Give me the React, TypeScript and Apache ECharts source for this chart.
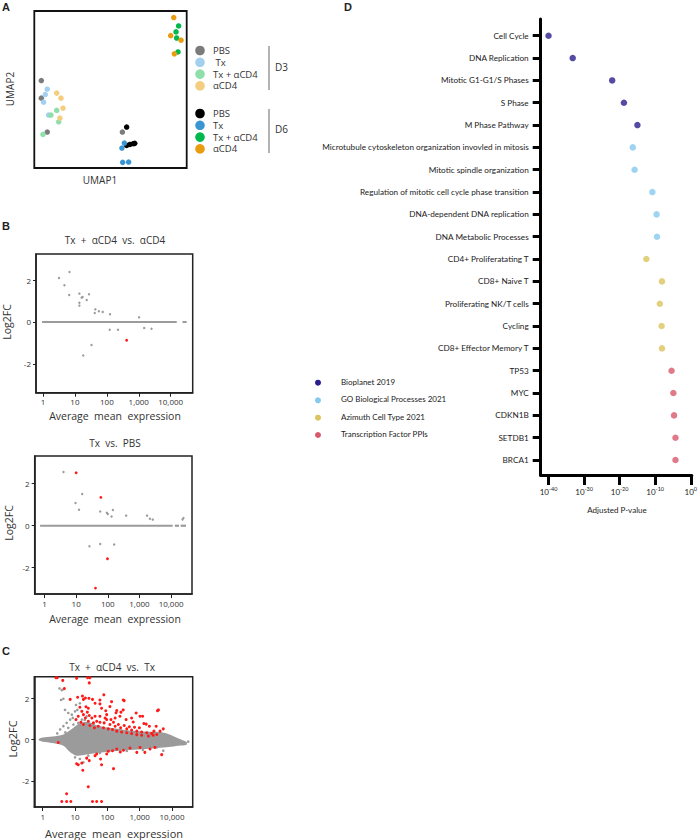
import React, { useEffect, useRef } from "react";
import * as echarts from "echarts";

// ---------- Panel A : UMAP ----------
const umapGroups = ["PBS", "Tx", "Tx + αCD4", "αCD4"];
const umapD3PBS = [[4.6, 55.7], [4.6, 44.5], [8.5, 22.9], [57.8, 22.9]];
const umapD3Tx = [[8.5, 50.2], [7.2, 46.8], [6.1, 41.9], [9.4, 33.7]];
const umapD3TxCD4 = [[10.9, 33.7], [14.7, 36.7], [16.0, 29.4], [5.7, 21.4]];
const umapD3CD4 = [[14.7, 47.7], [17.5, 44.5], [18.8, 38.1], [16.8, 31.8]];
const umapD6PBS = [[60.6, 26.1], [60.6, 14.4], [62.8, 15.0], [65.0, 15.5], [65.9, 15.7]];
const umapD6Tx = [[59.1, 15.9], [57.5, 12.7], [58.0, 3.6], [61.9, 3.8]];
const umapD6TxCD4 = [[94.7, 90.5], [93.0, 86.7], [93.4, 82.8], [94.3, 73.9]];
const umapD6CD4 = [[91.5, 95.8], [89.5, 84.3], [96.3, 81.4], [91.9, 72.7]];
const colD3 = ["#7b7b7b", "#a3d0ee", "#8fdfaa", "#f5cd80"];
const colD6 = ["#000000", "#3a96d3", "#00b84c", "#e99c10"];

// ---------- Panel B : MA plots (x = log10 mean expression) ----------
const xTickValues = [0, 1, 2, 3, 4];
const xTickLabels = ["1", "10", "100", "1,000", "10,000"];
const yTickValues = [-2, 0, 2];

const b1Gray = [
  [0.5, 2.1], [0.83, 2.38], [0.67, 1.75], [0.82, 1.29], [1.14, 1.35], [1.24, 1.19],
  [1.21, 1.16], [1.37, 1.05], [1.44, 1.32], [1.14, 0.92], [1.14, 0.78], [1.64, 0.6],
  [1.62, 0.43], [1.75, 0.51], [1.87, 0.48], [2.1, 0.37], [3.01, 0.22], [2.09, -0.37],
  [2.35, -0.37], [3.17, -0.29], [3.4, -0.32], [1.52, -1.1], [1.26, -1.6],
];
const b1Red = [[2.62, -0.87]];
const b1ZeroSegments = [[-0.03, 4.19], [4.37, 4.5]];

const b2Gray = [
  [0.6, 2.56], [1.19, 1.51], [0.98, 1.08], [1.09, 0.76], [1.76, 0.68], [1.97, 0.62],
  [2.0, 0.56], [2.12, 0.44], [2.16, 0.75], [2.58, 0.48], [3.24, 0.48], [3.33, 0.33],
  [3.42, 0.29], [4.36, 0.3], [4.39, 0.37], [1.42, -0.98], [1.76, -0.87], [2.2, -0.89],
];
const b2Red = [[1.0, 2.52], [1.78, 1.35], [1.99, -1.57], [1.61, -2.97]];
const b2ZeroSegments = [[-0.14, 4.05], [4.12, 4.25], [4.3, 4.47]];

// ---------- Panel C ----------
const cCoreUpper = [
  [-0.12, 0.03], [0.0, 0.1], [0.3, 0.15], [0.64, 0.25], [0.95, 0.57], [1.15, 0.8],
  [1.4, 0.85], [1.7, 0.68], [2.0, 0.58], [2.5, 0.48], [3.0, 0.4], [3.68, 0.35],
  [4.0, 0.2], [4.2, 0.05], [4.45, -0.12],
];
const cCoreLower = [
  [4.45, -0.25], [4.2, -0.3], [3.9, -0.36], [3.2, -0.46], [2.2, -0.57], [1.45, -0.7],
  [1.05, -0.78], [0.85, -0.62], [0.64, -0.3], [0.3, -0.16], [0.0, -0.1], [-0.12, -0.03],
];
const cGray = [
  [0.52, 2.48], [0.59, 2.4], [0.64, 2.44], [0.57, 1.92], [0.64, 1.98], [0.69, 1.44],
  [0.79, 1.29], [0.9, 1.21], [0.93, 1.05], [1.0, 1.37], [0.85, 0.97], [0.74, 0.81],
  [0.95, 0.73], [1.1, 0.81], [1.21, 0.97], [0.64, 0.65], [0.79, 0.57], [0.54, 0.49],
  [1.36, 1.13], [1.07, 1.44], [1.15, 1.76], [1.03, 1.68], [1.0, -0.86], [1.15, -0.94],
  [1.26, -1.1], [1.41, -0.78], [1.77, -0.65], [4.04, -0.14], [4.2, -0.11], [4.3, -0.14],
  [4.4, -0.17], [4.5, -0.1], [3.73, -0.54], [3.53, -0.38], [3.94, 0.02], [3.84, 0.1],
  [0.45, 0.3], [0.7, 0.35], [1.3, 0.95], [2.6, -0.55], [3.1, -0.5],
];
const cRed = [
  [0.41, 3.0], [0.45, 3.0], [1.05, 2.98], [1.39, 3.0], [1.46, 3.0], [0.67, 2.48],
  [0.62, 2.87], [1.44, 2.75], [1.08, 2.05], [1.32, 2.02], [1.43, 2.0], [1.89, 2.17],
  [2.52, 1.89], [0.85, 1.95], [1.23, 2.11], [1.26, 1.95], [1.54, 1.95], [1.77, 1.92],
  [1.62, 1.76], [2.13, 1.84], [2.49, 1.92], [3.58, 1.44],
  [1.15, 1.57], [1.34, 1.59], [1.41, 1.52], [1.21, 1.37], [1.38, 1.33], [1.26, 1.21],
  [1.44, 1.17], [1.32, 1.05], [1.52, 1.05], [1.62, 1.13], [1.67, 0.89], [1.77, 0.84],
  [1.9, 0.81], [1.98, 0.97], [2.08, 0.73], [2.19, 0.84], [2.24, 0.65], [2.34, 0.73],
  [2.41, 0.57], [2.52, 0.68], [2.6, 0.52], [2.68, 0.62], [2.75, 0.46], [2.84, 0.6],
  [2.91, 0.41], [2.99, 0.57], [3.06, 0.37], [3.13, 0.78], [3.22, 0.33], [3.3, 0.65],
  [3.37, 0.3], [3.44, 0.41], [3.53, 0.25], [3.55, 1.4], [3.09, 1.13], [2.89, 1.29],
  [2.29, 1.41], [2.42, 1.33], [2.08, 1.6], [1.77, 1.73], [1.98, 1.21], [1.82, 1.52],
  [1.18, 0.84], [1.1, 1.13], [1.03, 0.97], [1.26, 0.73], [1.46, 0.68], [1.57, 0.81],
  [1.72, 0.65], [1.88, 0.57], [2.03, 0.52], [2.16, 0.49], [2.29, 0.41], [2.44, 0.37],
  [2.6, 0.33], [2.75, 0.29], [2.91, 0.24], [3.06, 0.21], [3.27, 0.17], [3.42, 0.21],
  [3.63, 0.41], [3.73, 0.52], [3.51, 0.65], [2.58, 0.97], [2.75, 1.05], [2.39, 1.13],
  [2.24, 1.05], [1.41, 0.89], [1.6, 0.57], [1.77, 1.13], [1.93, 1.05], [2.11, 0.97],
  [3.01, 1.13], [2.27, 1.3], [2.49, 1.44], [1.95, 1.4], [2.8, 0.85], [3.2, 0.75],
  [0.48, -0.14], [1.1, -1.22], [1.21, -1.14], [1.24, -1.49], [1.44, -1.02], [1.62, -0.78],
  [1.67, -0.7], [1.79, -0.94], [1.82, -1.22], [1.98, -0.7], [2.03, -0.57], [2.16, -0.54],
  [2.19, -1.41], [2.29, -0.46], [2.4, -0.6], [2.5, -0.52], [2.7, -0.41], [2.91, -0.62],
  [3.01, -0.38], [3.16, -0.62], [3.32, -0.46], [3.47, -0.38], [3.68, -0.73],
  [1.41, -2.29], [0.74, -2.63], [0.59, -3.0], [0.74, -3.0], [0.87, -3.0],
  [1.54, -3.0], [1.67, -3.0], [1.82, -3.0], [1.05, -1.17], [1.36, -0.9],
];

// ---------- Panel D : enrichment ----------
const dCategories = [
  "Cell Cycle", "DNA Replication", "Mitotic G1-G1/S Phases", "S Phase", "M Phase Pathway",
  "Microtubule cytoskeleton organization invovled in mitosis", "Mitotic spindle organization",
  "Regulation of mitotic cell cycle phase transition", "DNA-dependent DNA replication",
  "DNA Metabolic Processes", "CD4+ Proliferatating T", "CD8+ Naive T", "Proliferating NK/T cells",
  "Cycling", "CD8+ Effector Memory T", "TP53", "MYC", "CDKN1B", "SETDB1", "BRCA1",
];
const dLog10P = [-40, -33.2, -22.1, -18.8, -15.0, -16.3, -15.8, -10.8, -9.6, -9.5,
  -12.5, -8.1, -8.7, -8.2, -8.1, -5.4, -4.9, -4.7, -4.3, -4.3];
const dLibraryOf = [0, 0, 0, 0, 0, 1, 1, 1, 1, 1, 2, 2, 2, 2, 2, 3, 3, 3, 3, 3];
const dLibraries = ["Bioplanet 2019", "GO Biological Processes 2021", "Azimuth Cell Type 2021", "Transcription Factor PPIs"];
const dColors = ["#2b1e8c", "#86c9ee", "#dcc45f", "#d8596c"];
const dTickValues = [-40, -30, -20, -10, 0];
const dTickExp = ["-40", "-30", "-20", "-10", "0"];

const fA = "'Open Sans', sans-serif";
const fD = "Lato, sans-serif";

function txt(x: number, y: number, text: string, size: number, opts: any = {}) {
  return {
    type: "text", x, y, rotation: opts.rotation || 0, silent: true,
    style: {
      text, fontSize: size, lineHeight: opts.lineHeight || size, fontFamily: opts.font || fA,
      fontWeight: opts.bold ? "bold" : "normal",
      fill: opts.color || "#222", textAlign: opts.align || "left", textVerticalAlign: opts.valign || "middle",
    },
  };
}

function maAxes(grid: number, xmin: number, xmax: number, ymin: number, ymax: number) {
  const x = {
    type: "value", gridIndex: grid, min: xmin, max: xmax,
    axisLine: { show: true, onZero: false, lineStyle: { color: "#222", width: 1.5 } },
    splitLine: { show: false },
    axisTick: { show: true, length: 4, lineStyle: { color: "#222", width: 1 }, customValues: xTickValues },
    axisLabel: {
      customValues: xTickValues, fontSize: 8, color: "#333", fontFamily: fA, margin: 5,
      formatter: (v: number) => xTickLabels[xTickValues.indexOf(Math.round(v))] ?? "",
    },
  };
  const y = {
    type: "value", gridIndex: grid, min: ymin, max: ymax,
    axisLine: { show: true, onZero: false, lineStyle: { color: "#222", width: 1.5 } },
    splitLine: { show: false },
    axisTick: { show: true, length: 3, lineStyle: { color: "#222", width: 1 }, customValues: yTickValues },
    axisLabel: { customValues: yTickValues, fontSize: 8, color: "#333", fontFamily: fA, margin: 5 },
  };
  return [x, y];
}

function dots(idx: number, data: number[][], color: string, size: number, z = 3) {
  return {
    type: "scatter", xAxisIndex: idx, yAxisIndex: idx, data, symbolSize: size, z,
    itemStyle: { color, opacity: 1 }, silent: true,
  };
}

function zeroLines(idx: number, segs: number[][]) {
  return segs.map((s) => ({
    type: "line", xAxisIndex: idx, yAxisIndex: idx, data: [[s[0], 0], [s[1], 0]],
    showSymbol: false, symbol: "none", lineStyle: { color: "#9b9b9b", width: 2.2 }, z: 2, silent: true,
  }));
}

export default function App() {
  const ref = useRef<HTMLDivElement>(null);
  useEffect(() => {
    document.body.style.margin = "0";
    const chart = echarts.init(ref.current!, null, { renderer: "svg" });

    const [bx1, by1] = maAxes(1, -0.22, 4.69, -3.37, 3.24);
    const [bx2, by2] = maAxes(2, -0.31, 4.66, -3.25, 3.32);
    const [cx, cy] = maAxes(3, -0.26, 4.64, -3.27, 3.05);

    const dSeries = dLibraries.map((name, li) => ({
      type: "scatter", name, xAxisIndex: 4, yAxisIndex: 4, symbolSize: 6.5,
      itemStyle: { color: dColors[li] }, silent: true,
      data: dLog10P.map((v, i) => [v, i]).filter((_, i) => dLibraryOf[i] === li),
    }));

    const graphics: any[] = [
      txt(2, 7, "A", 11, { bold: true, font: "'Liberation Sans', Arial" }),
      txt(2, 226, "B", 11, { bold: true, font: "'Liberation Sans', Arial" }),
      txt(2, 651, "C", 11, { bold: true, font: "'Liberation Sans', Arial" }),
      txt(344, 7, "D", 11, { bold: true, font: "'Liberation Sans', Arial" }),
      txt(100, 180, "UMAP1", 10, { align: "center", color: "#333" }),
      txt(10, 89, "UMAP2", 10, { align: "center", rotation: Math.PI / 2, color: "#333" }),
      txt(115, 240, "Tx\u00a0\u00a0+\u00a0\u00a0αCD4\u00a0\u00a0vs.\u00a0\u00a0αCD4", 10, { align: "center", color: "#333" }),
      txt(115, 443, "Tx\u00a0\u00a0vs.\u00a0\u00a0PBS", 10, { align: "center", color: "#333" }),
      txt(112, 667, "Tx\u00a0\u00a0+\u00a0\u00a0αCD4\u00a0\u00a0vs.\u00a0\u00a0Tx", 10, { align: "center", color: "#333" }),
      txt(115, 416, "Average\u00a0\u00a0mean\u00a0\u00a0expression", 10.5, { align: "center", color: "#333" }),
      txt(115, 619, "Average\u00a0\u00a0mean\u00a0\u00a0expression", 10.5, { align: "center", color: "#333" }),
      txt(114, 833, "Average\u00a0\u00a0mean\u00a0\u00a0expression", 11, { align: "center", color: "#333" }),
      txt(7, 322, "Log2FC", 10.5, { align: "center", rotation: Math.PI / 2, color: "#333" }),
      txt(9, 523, "Log2FC", 10.5, { align: "center", rotation: Math.PI / 2, color: "#333" }),
      txt(12, 739, "Log2FC", 11, { align: "center", rotation: Math.PI / 2, color: "#333" }),
      // D3 / D6 brackets
      { type: "line", silent: true, shape: { x1: 269, y1: 46, x2: 269, y2: 90 }, style: { stroke: "#666", lineWidth: 1 } },
      { type: "line", silent: true, shape: { x1: 269, y1: 109, x2: 269, y2: 153 }, style: { stroke: "#666", lineWidth: 1 } },
      txt(275, 67, "D3", 10, { color: "#333" }),
      txt(275, 129, "D6", 10, { color: "#333" }),
      txt(617, 510, "Adjusted P-value", 8, { align: "center", font: fD, color: "#222" }),
    ];
    const yD3 = [50.5, 62.3, 74.1, 85.9];
    const yD6 = [113.5, 125.3, 137.1, 148.9];
    umapGroups.forEach((g, i) => {
      graphics.push({ type: "circle", silent: true, shape: { cx: 200, cy: yD3[i], r: 4.8 }, style: { fill: colD3[i] } });
      graphics.push({ type: "circle", silent: true, shape: { cx: 200, cy: yD6[i], r: 4.8 }, style: { fill: colD6[i] } });
      graphics.push(txt(213, yD3[i], i === 1 ? "\u00a0" + g : g, 9.5, { color: "#333" }));
      graphics.push(txt(213, yD6[i], g, 9.5, { color: "#333" }));
    });

    const yLeg = [382.7, 400.3, 417.7, 435];
    dLibraries.forEach((name, i) => {
      graphics.push({ type: "circle", silent: true, shape: { cx: 318, cy: yLeg[i], r: 3 }, style: { fill: dColors[i] } });
      graphics.push(txt(341, yLeg[i] - 1, name, 8, { font: fD, color: "#222" }));
    });

    const option: any = {
      animation: false,
      backgroundColor: "#ffffff",
      grid: [
        { left: 34.3, top: 11, width: 152.4, height: 157, show: true, borderColor: "#111", borderWidth: 1.8, backgroundColor: "transparent" },
        { left: 36, top: 254, width: 156.7, height: 138.7, show: true, borderColor: "#222", borderWidth: 1.5, backgroundColor: "transparent" },
        { left: 34.7, top: 456, width: 157.3, height: 138, show: true, borderColor: "#222", borderWidth: 1.5, backgroundColor: "transparent" },
        { left: 34.3, top: 676.7, width: 158.4, height: 130.3, show: true, borderColor: "#222", borderWidth: 1.5, backgroundColor: "transparent" },
        { left: 540.7, top: 19, width: 154.3, height: 456, show: false },
      ],
      xAxis: [
        { type: "value", gridIndex: 0, min: 0, max: 100, show: false },
        bx1, bx2, cx,
        {
          type: "value", gridIndex: 4, min: -42.2, max: 0.3, position: "bottom",
          axisLine: { show: true, onZero: false, lineStyle: { color: "#000", width: 3 } },
          splitLine: { show: false },
          axisTick: { show: true, length: 10, lineStyle: { color: "#000", width: 3 }, customValues: dTickValues },
          axisLabel: {
            customValues: dTickValues, margin: 11, color: "#222",
            formatter: (v: number) => `{b|10}{s|${dTickExp[dTickValues.indexOf(Math.round(v))] ?? ""}}`,
            rich: {
              b: { fontSize: 8, fontFamily: fD, color: "#222", lineHeight: 12 },
              s: { fontSize: 5.5, fontFamily: fD, color: "#222", lineHeight: 6, verticalAlign: "top" },
            },
          },
        },
      ],
      yAxis: [
        { type: "value", gridIndex: 0, min: 0, max: 100, show: false },
        by1, by2, cy,
        {
          type: "value", gridIndex: 4, min: -0.75, max: 19.67, inverse: true, position: "left",
          axisLine: { show: true, onZero: false, lineStyle: { color: "#000", width: 3 } },
          splitLine: { show: false },
          axisTick: { show: true, length: 8, lineStyle: { color: "#000", width: 3 }, customValues: dCategories.map((_, i) => i) },
          axisLabel: {
            customValues: dCategories.map((_, i) => i), margin: 12, fontSize: 8.2, fontFamily: fD, color: "#222",
            formatter: (v: number) => dCategories[Math.round(v)] ?? "",
          },
        },
      ],
      graphic: graphics,
      series: [
        dots(0, umapD3PBS, colD3[0], 5.5), dots(0, umapD3Tx, colD3[1], 5.5),
        dots(0, umapD3TxCD4, colD3[2], 5.5), dots(0, umapD3CD4, colD3[3], 5.5),
        dots(0, umapD6PBS, colD6[0], 5.5), dots(0, umapD6Tx, colD6[1], 5.5),
        dots(0, umapD6TxCD4, colD6[2], 5.5), dots(0, umapD6CD4, colD6[3], 5.5),
        ...zeroLines(1, b1ZeroSegments),
        dots(1, b1Gray, "#9b9b9b", 2.4), dots(1, b1Red, "#ff1a1a", 2.8, 4),
        ...zeroLines(2, b2ZeroSegments),
        dots(2, b2Gray, "#9b9b9b", 2.4), dots(2, b2Red, "#ff1a1a", 2.8, 4),
        {
          type: "custom", xAxisIndex: 3, yAxisIndex: 3, data: [[0, 0]], silent: true, z: 2, clip: true,
          renderItem: (_p: any, api: any) => ({
            type: "polygon",
            shape: { points: cCoreUpper.concat(cCoreLower).map((pt) => api.coord(pt)), smooth: 0.3 },
            style: { fill: "#9b9b9b" },
          }),
        },
        dots(3, cGray, "#9b9b9b", 2.6), dots(3, cRed, "#ff1a1a", 3, 4),
        ...dSeries,
      ],
    };
    chart.setOption(option);
    return () => chart.dispose();
  }, []);
  return <div ref={ref} style={{ width: 700, height: 840 }} />;
}
